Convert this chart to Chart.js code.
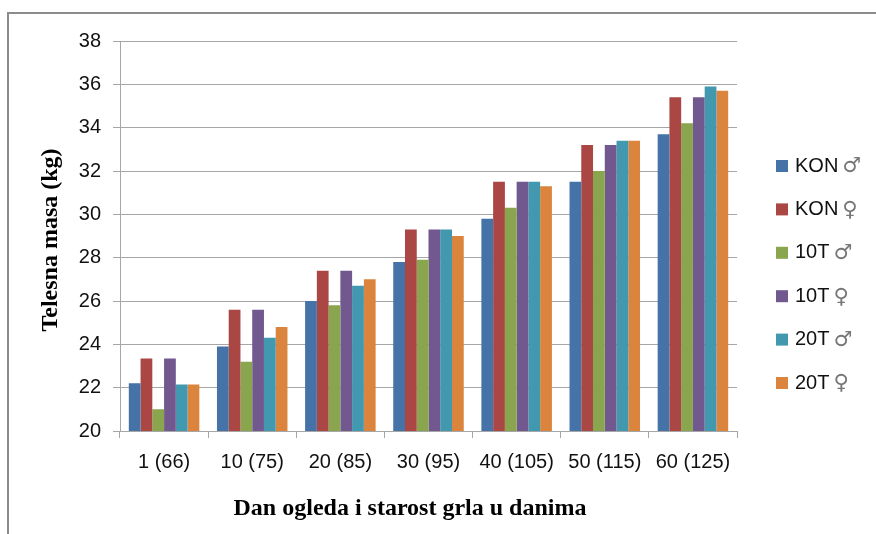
<!DOCTYPE html>
<html>
<head>
<meta charset="utf-8">
<script src="https://cdn.jsdelivr.net/npm/chart.js@4/dist/chart.umd.min.js"></script>
<style>
  html, body { margin: 0; padding: 0; background: #fff; }
  #wrap { width: 876px; height: 534px; position: relative; }
</style>
</head>
<body>
<div id="wrap"><canvas id="c" width="876" height="534"></canvas></div>
<script>
// categories: day of trial (age in days)
const categories = ['1 (66)', '10 (75)', '20 (85)', '30 (95)', '40 (105)', '50 (115)', '60 (125)'];

// body mass (kg) per group
const konMale     = [22.2, 23.9, 26.0, 27.8, 29.8, 31.5, 33.7];
const konFemale   = [23.35, 25.6, 27.4, 29.3, 31.5, 33.2, 35.4];
const t10Male     = [21.0, 23.2, 25.8, 27.9, 30.3, 32.0, 34.2];
const t10Female   = [23.35, 25.6, 27.4, 29.3, 31.5, 33.2, 35.4];
const t20Male     = [22.15, 24.3, 26.7, 29.3, 31.5, 33.4, 35.9];
const t20Female   = [22.15, 24.8, 27.0, 29.0, 31.3, 33.4, 35.7];

const seriesLabels = ['KON ♂', 'KON ♀', '10T ♂', '10T ♀', '20T ♂', '20T ♀'];
const seriesColors = ['#4572A7', '#AA4643', '#89A54E', '#71588F', '#4198AF', '#DB843D'];
const seriesData = [konMale, konFemale, t10Male, t10Female, t20Male, t20Female];

const yTitle = 'Telesna masa (kg)';
const xTitle = 'Dan ogleda i starost grla u danima';

const gridColor = '#a6a6a6';
const serif = '"Liberation Serif", "Times New Roman", serif';
const sans = '"Liberation Sans", Arial, sans-serif';

// frame, axis titles and the right-side legend
const extras = {
    id: 'extras',
    afterDraw(chart) {
        const ctx = chart.ctx;
        ctx.save();
        ctx.strokeStyle = '#8c8c8c';
        ctx.lineWidth = 2;
        ctx.strokeRect(8, 13, 900, 600);

        ctx.fillStyle = '#000';
        ctx.font = 'bold 24px ' + serif;
        ctx.textAlign = 'center';
        ctx.textBaseline = 'middle';
        ctx.fillText(xTitle, 410, 509);

        ctx.save();
        ctx.translate(51, 240);
        ctx.rotate(-Math.PI / 2);
        ctx.fillText(yTitle, 0, 0);
        ctx.restore();

        ctx.textAlign = 'left';
        chart.data.datasets.forEach((ds, i) => {
            const y = 166 + i * 43.4;
            const parts = ds.label.split(' ');
            ctx.fillStyle = ds.backgroundColor;
            ctx.fillRect(776, y - 6, 12, 12);
            ctx.fillStyle = '#111';
            ctx.font = '20px ' + sans;
            ctx.fillText(parts[0], 795, y);
            const w = ctx.measureText(parts[0]).width;
            ctx.fillStyle = '#777';
            ctx.font = '21px "DejaVu Sans", sans-serif';
            ctx.fillText(parts[1], 795 + w + 4, y + 1);
        });
        ctx.restore();
    }
};

new Chart(document.getElementById('c'), {
    type: 'bar',
    data: {
        labels: categories,
        datasets: seriesData.map((d, i) => ({
            label: seriesLabels[i],
            data: d,
            backgroundColor: seriesColors[i],
            borderWidth: 0,
            barPercentage: 1.0,
            categoryPercentage: 0.8
        }))
    },
    options: {
        responsive: false,
        animation: false,
        layout: { padding: { top: 41, right: 139, left: 0, bottom: 0 } },
        plugins: {
            legend: { display: false },
            tooltip: { enabled: false }
        },
        scales: {
            y: {
                min: 20,
                max: 38,
                ticks: {
                    stepSize: 2,
                    color: '#111',
                    padding: 12,
                    font: { family: sans, size: 20 }
                },
                grid: { color: gridColor, lineWidth: 1, tickLength: 7 },
                border: { color: gridColor, width: 1 },
                afterFit(scale) { scale.width = 120; }
            },
            x: {
                ticks: {
                    color: '#111',
                    padding: 12,
                    font: { family: sans, size: 20 }
                },
                grid: { offset: true, drawOnChartArea: false, color: gridColor, tickLength: 7 },
                border: { color: gridColor, width: 1 },
                afterFit(scale) { scale.height = 103; }
            }
        }
    },
    plugins: [extras]
});
</script>
</body>
</html>
